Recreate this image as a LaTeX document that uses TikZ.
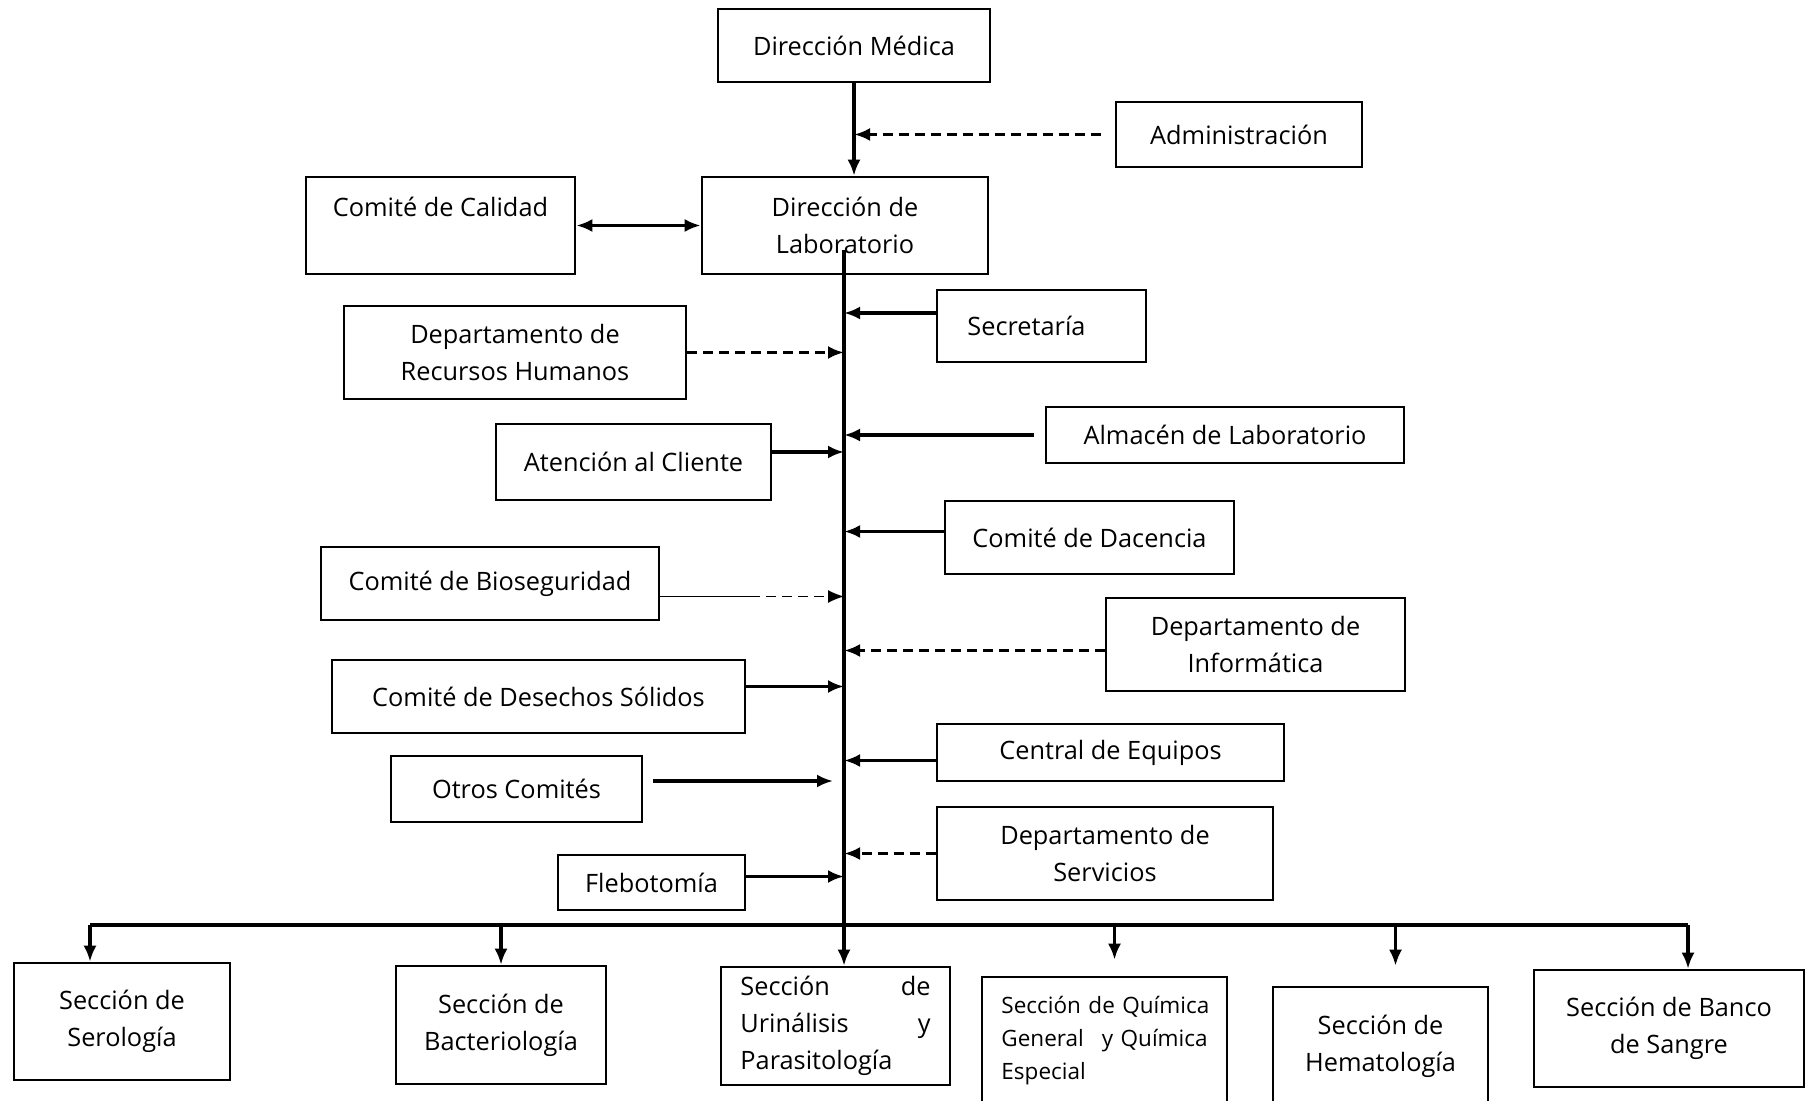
\documentclass[tikz,border=0pt]{standalone}
\usepackage{fontspec}
\setmainfont{Open Sans}
\usetikzlibrary{arrows.meta,calc}

\begin{document}
\begin{tikzpicture}[x=0.01cm,y=-0.01cm,
  >={Latex[length=1.6mm,width=1.3mm]},
  unit/.style={draw, line width=0.7pt, align=center, inner sep=2pt,
    font=\fontsize{7.2}{10.5}\selectfont},
  link/.style={line width=0.9pt, ->},
  dlink/.style={link, dash pattern=on 1mm off 0.6mm}]

\clip (0,0) rectangle (1810,1101);

% direccion
\node[unit, minimum width=27.2mm, minimum height=7.3mm] (med) at (854,45.5) {Dirección Médica};
\node[unit, minimum width=24.6mm, minimum height=6.5mm] (adm) at (1239,134.5) {Administración};
\node[unit, minimum width=26.9mm, minimum height=9.7mm] (cal) at (440.5,225.5) {Comité de Calidad\\ \mbox{}};
\node[unit, minimum width=28.6mm, minimum height=9.7mm] (lab) at (845,225.5) {Dirección de\\Laboratorio};

% apoyo
\node[unit, minimum width=20.9mm, minimum height=7.2mm] (sec) at (1041.5,326) {Secretaría\hspace*{3mm}};
\node[unit, minimum width=34.2mm, minimum height=9.3mm] (rrhh) at (515,352.5) {Departamento de\\Recursos Humanos};
\node[unit, minimum width=35.8mm, minimum height=5.6mm] (alm) at (1225,435) {Almacén de Laboratorio};
\node[unit, minimum width=27.5mm, minimum height=7.6mm] (ate) at (633.5,462) {Atención al Cliente};
\node[unit, minimum width=28.9mm, minimum height=7.3mm] (doc) at (1089.5,537.5) {Comité de Dacencia};
\node[unit, minimum width=33.8mm, minimum height=7.3mm] (bio) at (490,583.5) {Comité de Bioseguridad};
\node[unit, minimum width=29.9mm, minimum height=9.3mm] (inf) at (1255.5,644.5) {Departamento de\\Informática};
\node[unit, minimum width=41.3mm, minimum height=7.3mm] (des) at (538.5,696.5) {Comité de Desechos Sólidos};
\node[unit, minimum width=34.7mm, minimum height=5.7mm] (cen) at (1110.5,752.5) {Central de Equipos};
\node[unit, minimum width=25.1mm, minimum height=6.6mm] (otr) at (516.5,789) {Otros Comités};
\node[unit, minimum width=33.6mm, minimum height=9.3mm] (ser) at (1105,853.5) {Departamento de\\Servicios};
\node[unit, minimum width=18.7mm, minimum height=5.5mm] (fle) at (651.5,882.5) {Flebotomía};

% secciones
\node[unit, minimum width=21.6mm, minimum height=11.7mm] (sero) at (122,1021.5) {Sección de\\Serología};
\node[unit, minimum width=21.0mm, minimum height=11.8mm] (bact) at (501,1025) {Sección de\\Bacteriología};
\node[unit, minimum width=22.9mm, minimum height=11.8mm, text width=19mm, align=left] (uri) at (835.5,1026)
  {Sección\hfill de\\Urinálisis\hfill y\\Parasitología};
\node[unit, minimum width=24.5mm, minimum height=12.8mm, text width=20.6mm, align=left,
  font=\fontsize{6.4}{9.4}\selectfont] (qui) at (1104.5,1041)
  {\mbox{Sección de Química}\\General\hfill y Química\\Especial};
\node[unit, minimum width=21.5mm, minimum height=11.8mm] (hem) at (1380.5,1046) {Sección de\\Hematología};
\node[unit, minimum width=27.0mm, minimum height=11.7mm] (ban) at (1669,1028.5) {Sección de Banco\\de Sangre};

% lineas
\coordinate (spn) at (844,250);
\coordinate (busl) at (90,925);
\coordinate (busr) at (1688,925);

\draw[link] (med.south) -- (med.south |- lab.north);
\draw[dlink, shorten <=1.4mm] (adm.west) -- (med.south |- adm.west);
\draw[link, <->] (cal.east) -- (lab.west);
\draw[link] (spn) -- (spn |- uri.north);

\draw[link] ($(sec.west)+(0,-13)$) coordinate (p) -- (spn |- p);
\draw[dlink] (rrhh.east) -- (spn |- rrhh.east);
\draw[link, shorten <=1.1mm] (alm.west) -- (spn |- alm.west);
\draw[link] ($(ate.east)+(0,-10)$) coordinate (p) -- (spn |- p);
\draw[link] ($(doc.west)+(0,-6)$) coordinate (p) -- (spn |- p);
\draw[thin] ($(bio.east)+(0,13)$) coordinate (p) -- ++(90,0) coordinate (q);
\draw[dlink, thin] (q) -- (spn |- q);
\draw[dlink] ($(inf.west)+(0,6)$) coordinate (p) -- (spn |- p);
\draw[link] ($(des.east)+(0,-10)$) coordinate (p) -- (spn |- p);
\draw[link] ($(cen.west)+(0,8)$) coordinate (p) -- (spn |- p);
\draw[link, shorten <=1mm, shorten >=1.1mm] ($(otr.east)+(0,-8)$) coordinate (p) -- (spn |- p);
\draw[dlink] (ser.west) -- (spn |- ser.west);
\draw[link] ($(fle.east)+(0,-6)$) coordinate (p) -- (spn |- p);

\draw[line width=0.9pt] (busl) -- (busr);
\draw[link] (busl) -- (busl |- sero.north);
\draw[link] (bact.north |- busl) -- (bact.north);
\draw[link, shorten >=1.6mm] ($(qui.north |- busl)+(10,0)$) coordinate (p) -- (p |- qui.north);
\draw[link, shorten >=2mm] ($(hem.north |- busl)+(15,0)$) coordinate (p) -- (p |- hem.north);
\draw[link] (busr) -- (busr |- ban.north);

\end{tikzpicture}
\end{document}
